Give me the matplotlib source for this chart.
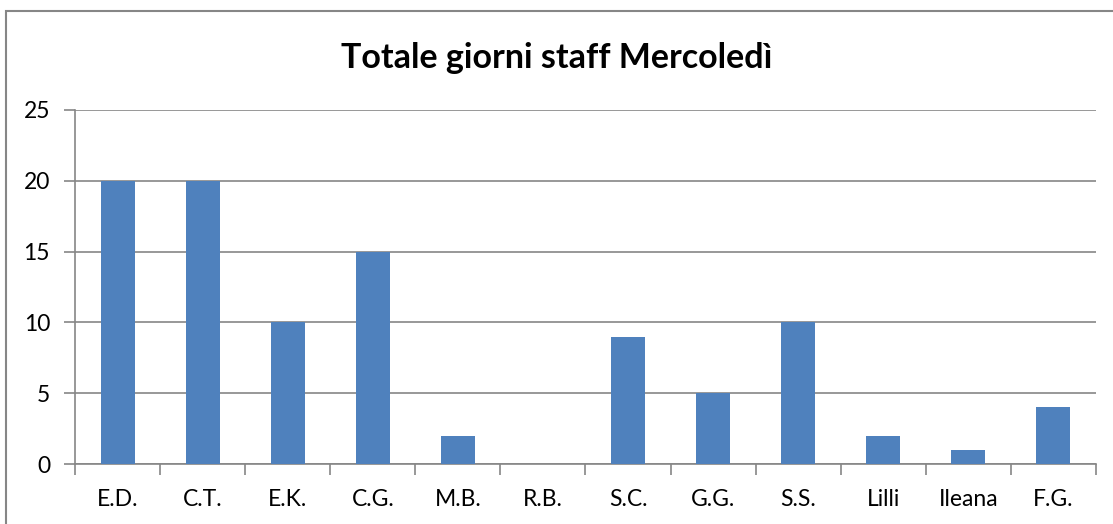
import numpy as np
import matplotlib.pyplot as plt
from matplotlib.patches import Rectangle

staff = ['E.D.', 'C.T.', 'E.K.', 'C.G.', 'M.B.', 'R.B.', 'S.C.', 'G.G.', 'S.S.', 'Lilli', 'Ileana', 'F.G.']
giorni = [20, 20, 10, 15, 2, 0, 9, 5, 10, 2, 1, 4]
y_ticks = [0, 5, 10, 15, 20, 25]

plt.rcParams['font.family'] = ['Lato', 'DejaVu Sans']
grey = '#868686'

fig = plt.figure(figsize=(11.13, 5.24), dpi=100)
ax = fig.add_axes([0.0674, 0.1145, 0.9173, 0.6756])

x = np.arange(len(staff))
ax.bar(x, giorni, width=0.4, color='#4F81BD', zorder=3)

ax.set_xlim(-0.5, len(staff) - 0.5)
ax.set_ylim(0, 25)
ax.set_yticks(y_ticks)
ax.yaxis.grid(True, color=grey, linewidth=1.2, zorder=0)

ax.set_xticks(x)
ax.set_xticklabels(staff, fontsize=16.5)
ax.set_xticks(np.arange(len(staff) + 1) - 0.5, minor=True)
ax.tick_params(axis='x', which='major', length=0, pad=18)
ax.tick_params(axis='x', which='minor', length=8, color=grey, width=1.2)
ax.tick_params(axis='y', length=8, color=grey, width=1.2, labelsize=16.5, pad=10)

for side in ['top', 'right']:
    ax.spines[side].set_visible(False)
for side in ['left', 'bottom']:
    ax.spines[side].set_color(grey)
    ax.spines[side].set_linewidth(1.2)

fig.text(0.5, 0.89, 'Totale giorni staff Mercoledì', ha='center', va='center',
         fontsize=24.5, fontweight='bold')

# chart area border (only left and top visible in the crop)
fig.patches.append(Rectangle((5.5 / 1113, -0.1), 1.2, 0.1 + 1 - 11.5 / 524,
                             transform=fig.transFigure, fill=False,
                             edgecolor=grey, linewidth=1.5))

fig.savefig('out.png', dpi=100)
